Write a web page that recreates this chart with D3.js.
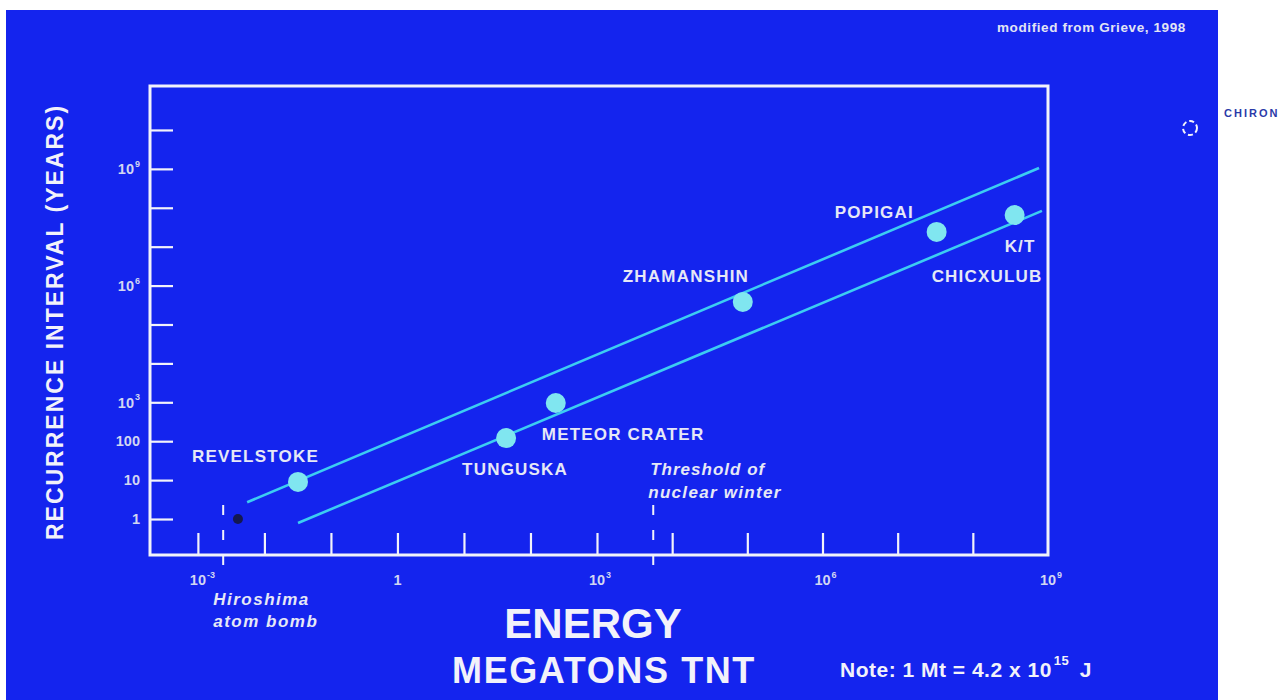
<!DOCTYPE html>
<html><head><meta charset="utf-8">
<script src="https://cdn.jsdelivr.net/npm/d3@7"></script>
<style>
body{margin:0;background:#fff}
svg text{font-family:"Liberation Sans",Arial,Helvetica,sans-serif}
</style>
</head><body>
<svg id="chart" width="1286" height="700"></svg>
<script>
// ---------------- data ----------------
const impactNames = [["REVELSTOKE"], ["TUNGUSKA"], ["METEOR CRATER"], ["ZHAMANSHIN"], ["POPIGAI"], ["K/T", "CHICXULUB"]];
const impactEnergyMt = [0.032, 43, 240, 87000, 3.3e7, 3.6e8];
const impactRecurrenceYr = [9, 120, 960, 3.8e5, 2.4e7, 6.5e7];

const upperBandEnergy = [0.0055, 7.6e8];
const upperBandYears = [2.7, 1.05e9];
const lowerBandEnergy = [0.032, 8.3e8];
const lowerBandYears = [0.79, 8.3e7];

const hiroshimaEnergy = 0.0024;
const hiroshimaDot = [0.004, 1];
const nuclearWinterEnergy = 5600;

const xTickValues = [1e-3, 1e-2, 1e-1, 1, 10, 100, 1e3, 1e4, 1e5, 1e6, 1e7, 1e8];
const xLabelValues = [1e-3, 1, 1e3, 1e6, 1e9];
const xLabelBase = ["10", "1", "10", "10", "10"];
const xLabelExp = ["-3", "", "3", "6", "9"];

const yTickValues = [1, 10, 100, 1e3, 1e4, 1e5, 1e6, 1e7, 1e8, 1e9, 1e10];
const yLabelValues = [1, 10, 100, 1e3, 1e6, 1e9];
const yLabelBase = ["1", "10", "100", "10", "10", "10"];
const yLabelExp = ["", "", "", "3", "6", "9"];

// ---------------- layout ----------------
const svg = d3.select("#chart");
const BLUE = "#1424ee";
const WHITE = "#f2f2fa";
const LABEL = "#e6e8f6";
const TICKLBL = "#d2d6f2";
const LINE = "#3ccdf2";
const DOT = "#80e6f0";

// scanned figure: decades on the energy axis are a little wider above 10^3 Mt
const x = d3.scaleLog().domain([Math.pow(10, -3.72), 1e3, 1e9]).range([150, 597, 1048]);
const y = d3.scaleLog().domain([Math.pow(10, -0.925), Math.pow(10, 11.13)]).range([555, 86]);

svg.append("rect").attr("x", 6).attr("y", 10).attr("width", 1212).attr("height", 690).attr("fill", BLUE);

const X0 = x.range()[0], X1 = x.range()[2], Y0 = y.range()[0], Y1 = y.range()[1];

// axes (inward ticks)
const gy = svg.append("g").attr("transform", `translate(${X0},0)`)
  .call(d3.axisLeft(y).tickValues(yTickValues).tickSize(-23).tickFormat(""));
const gx = svg.append("g").attr("transform", `translate(0,${Y0})`)
  .call(d3.axisBottom(x).tickValues(xTickValues).tickSize(-22).tickFormat(""));
[gx, gy].forEach(g => {
  g.select(".domain").remove();
  g.selectAll(".tick line").attr("stroke", WHITE).attr("stroke-width", 2.2);
});

// frame
svg.append("rect").attr("x", X0).attr("y", Y1).attr("width", X1 - X0).attr("height", Y0 - Y1)
  .attr("fill", "none").attr("stroke", WHITE).attr("stroke-width", 3);

// tick labels
function supText(sel, base, exp, size) {
  sel.append("tspan").text(base);
  if (exp) sel.append("tspan").attr("font-size", size * 0.62).attr("dy", -size * 0.5).attr("dx", 1).text(exp);
}
yLabelValues.forEach((v, i) => {
  const t = svg.append("text").attr("x", X0 - 10).attr("y", y(v)).attr("dy", "0.36em")
    .attr("text-anchor", "end").attr("font-size", 14.5).attr("font-weight", "bold").attr("fill", TICKLBL);
  supText(t, yLabelBase[i], yLabelExp[i], 14.5);
});
xLabelValues.forEach((v, i) => {
  const t = svg.append("text").attr("y", Y0 + 30).attr("font-size", 14.5).attr("font-weight", "bold").attr("fill", TICKLBL);
  supText(t, xLabelBase[i], xLabelExp[i], 14.5);
  const bw = t.select("tspan").node().getComputedTextLength();
  t.attr("x", x(v) - bw / 2);
});

// dashed markers
[hiroshimaEnergy, nuclearWinterEnergy].forEach(e => {
  svg.append("line").attr("x1", x(e)).attr("x2", x(e)).attr("y1", Y0 - 50).attr("y2", Y0 + 25)
    .attr("stroke", WHITE).attr("stroke-width", 2).attr("stroke-dasharray", "10,15");
});

// band lines
const line = d3.line().x(d => x(d[0])).y(d => y(d[1]));
[[upperBandEnergy, upperBandYears], [lowerBandEnergy, lowerBandYears]].forEach(([es, ys]) => {
  svg.append("path").attr("d", line(es.map((e, i) => [e, ys[i]])))
    .attr("fill", "none").attr("stroke", LINE).attr("stroke-width", 2.6);
});

// Hiroshima small dark dot
svg.append("circle").attr("cx", x(hiroshimaDot[0])).attr("cy", y(hiroshimaDot[1])).attr("r", 5).attr("fill", "#141850");

// impacts
const impacts = impactNames.map((n, i) => ({ lines: n, e: impactEnergyMt[i], r: impactRecurrenceYr[i] }));
svg.selectAll("circle.imp").data(impacts).join("circle").attr("class", "imp")
  .attr("cx", d => x(d.e)).attr("cy", d => y(d.r)).attr("r", 10).attr("fill", DOT);

const labelOffsets = [[[-106, -20]], [[-44, 37]], [[-14, 37]], [[-120, -20]], [[-102, -14]], [[-10, 37], [-83, 67]]];
impacts.forEach((d, i) => {
  d.lines.forEach((txt, j) => {
    svg.append("text").attr("x", x(d.e) + labelOffsets[i][j][0]).attr("y", y(d.r) + labelOffsets[i][j][1])
      .attr("font-size", 17).attr("font-weight", "bold").attr("letter-spacing", 1.2)
      .attr("fill", LABEL).text(txt);
  });
});

// italic annotations
function italic(xp, yp, txt, ls) {
  svg.append("text").attr("x", xp).attr("y", yp).attr("font-size", 17).attr("font-weight", "bold")
    .attr("font-style", "italic").attr("letter-spacing", ls).attr("fill", LABEL).text(txt);
}
italic(x(nuclearWinterEnergy) - 3, 475, "Threshold of", 1);
italic(x(nuclearWinterEnergy) - 5, 498, "nuclear winter", 1.3);
italic(x(hiroshimaEnergy) - 10, 605, "Hiroshima", 1.5);
italic(x(hiroshimaEnergy) - 10, 627, "atom bomb", 1.5);

// axis titles
svg.append("text").attr("transform", "translate(63,322) rotate(-90)").attr("text-anchor", "middle")
  .attr("font-size", 23).attr("font-weight", "bold").attr("letter-spacing", 2).attr("fill", WHITE)
  .text("RECURRENCE INTERVAL (YEARS)");
svg.append("text").attr("x", 593).attr("y", 638).attr("text-anchor", "middle")
  .attr("font-size", 42).attr("font-weight", "bold").attr("fill", WHITE).text("ENERGY");
svg.append("text").attr("x", 604).attr("y", 683).attr("text-anchor", "middle")
  .attr("font-size", 36).attr("font-weight", "bold").attr("letter-spacing", 1.6).attr("fill", WHITE).text("MEGATONS TNT");

// note
const note = svg.append("text").attr("x", 840).attr("y", 677).attr("font-size", 21).attr("font-weight", "bold")
  .attr("letter-spacing", 0.5).attr("fill", WHITE);
note.append("tspan").text("Note: 1 Mt = 4.2 x 10");
note.append("tspan").attr("font-size", 13).attr("dy", -12).attr("dx", 2).text("15");
note.append("tspan").attr("dy", 12).attr("dx", 4).text(" J");

// source
svg.append("text").attr("x", 997).attr("y", 32).attr("font-size", 13.5).attr("font-weight", "bold")
  .attr("letter-spacing", 0.6).attr("fill", "#e2e4f4").text("modified from Grieve, 1998");

// Chiron
svg.append("circle").attr("cx", 1190).attr("cy", 128).attr("r", 7).attr("fill", "none")
  .attr("stroke", WHITE).attr("stroke-width", 2).attr("stroke-dasharray", "5,3");
svg.append("text").attr("x", 1224).attr("y", 117).attr("font-size", 11).attr("font-weight", "bold")
  .attr("letter-spacing", 2).attr("fill", "#2a3aa8").text("CHIRON");
</script>
</body></html>
